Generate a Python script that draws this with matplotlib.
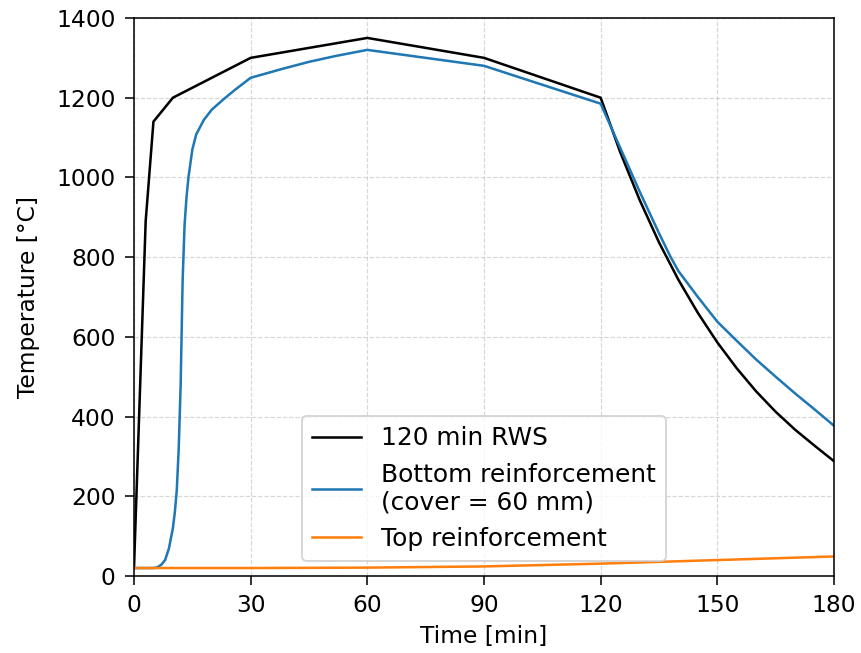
import matplotlib
matplotlib.use("Agg")
import matplotlib.pyplot as plt

# 120 min RWS fire curve (heating + cooling)
rws_t = [0, 3, 5, 10, 30, 60, 90, 120, 125, 130, 135, 140, 145, 150, 155, 160, 165, 170, 175, 180]
rws_T = [20, 890, 1140, 1200, 1300, 1350, 1300, 1200, 1064, 944, 837, 743, 660, 586, 521, 463, 412, 367, 327, 288]

# Bottom reinforcement (cover = 60 mm)
bot_t = [0, 5, 6, 7, 8, 9, 10, 10.5, 11, 11.5, 12, 12.5, 13, 13.5, 14, 15, 16, 18, 20, 23, 26, 30, 38, 45, 52, 60, 90, 120,
         125, 130, 135, 138, 140, 145, 150, 155, 160, 165, 170, 175, 180]
bot_T = [20, 20, 22, 28, 40, 70, 120, 160, 215, 320, 480, 740, 880, 950, 1000, 1070, 1108, 1145, 1170, 1196, 1220, 1250, 1272, 1290, 1305, 1320, 1280, 1185,
         1075, 965, 860, 800, 765, 700, 638, 590, 543, 500, 458, 418, 377]

# Top reinforcement
top_t = [0, 30, 60, 90, 120, 150, 180]
top_T = [20, 20, 21, 24, 31, 40, 49]

xticks = [0, 30, 60, 90, 120, 150, 180]
yticks = [0, 200, 400, 600, 800, 1000, 1200, 1400]

plt.rcParams["font.size"] = 12
dpi = 140
fig = plt.figure(figsize=(861 / dpi, 653 / dpi), dpi=dpi)
ax = fig.add_axes([134 / 861, 1 - 576 / 653, 700 / 861, 558 / 653])

lw = 1.3
ax.plot(rws_t, rws_T, color="black", lw=lw, label="120 min RWS")
ax.plot(bot_t, bot_T, color="C0", lw=lw, label="Bottom reinforcement\n(cover = 60 mm)")
ax.plot(top_t, top_T, color="C1", lw=lw, label="Top reinforcement")

ax.set_xlim(0, 180)
ax.set_ylim(0, 1400)
ax.set_xticks(xticks)
ax.set_yticks(yticks)
ax.tick_params(length=4.5, pad=5)
ax.set_xlabel("Time [min]", labelpad=4)
ax.set_ylabel("Temperature [°C]", labelpad=8.5)
ax.grid(True, linestyle="--", alpha=0.5, lw=0.6)
ax.legend(loc="lower center", bbox_to_anchor=(0.5, 15 / 558), borderaxespad=0, fontsize=12.8)

fig.savefig("out.png", dpi=dpi)
